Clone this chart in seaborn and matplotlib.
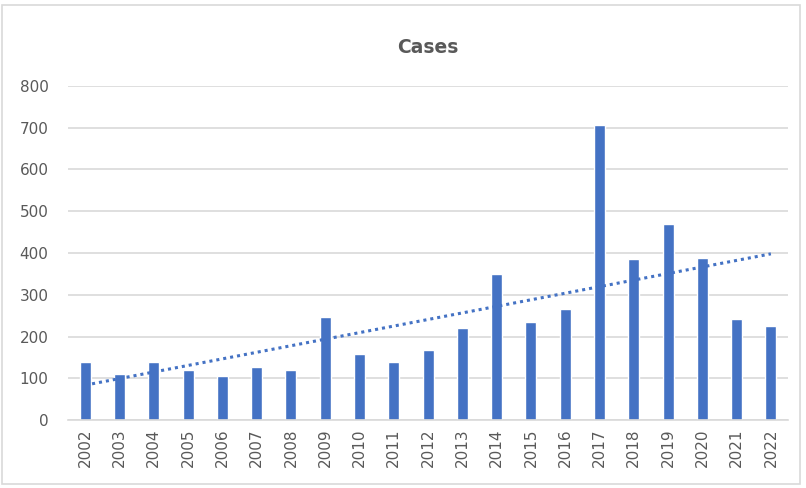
import numpy as np
import pandas as pd
import seaborn as sns
import matplotlib.pyplot as plt
from matplotlib.patches import Rectangle

# data
years = [str(y) for y in range(2002, 2023)]
cases = [138, 110, 140, 119, 106, 126, 119, 246, 158, 138, 168,
         220, 350, 235, 266, 706, 385, 469, 388, 243, 226]

df = pd.DataFrame({'year': years, 'cases': cases})

# linear trendline like Excel's
idx = np.arange(len(years))
slope, intercept = np.polyfit(idx, cases, 1)
trend = pd.DataFrame({'x': idx, 'y': slope * idx + intercept})

sns.set_style("white")
plt.rcParams['font.family'] = ['DejaVu Sans']

bar_color = '#4472C4'
text_color = '#595959'
grid_color = '#D9D9D9'

fig = plt.figure(figsize=(8.06, 4.88), dpi=100)
ax = fig.add_axes([0.0844, 0.1393, 0.8933, 0.6845])

sns.barplot(data=df, x='year', y='cases', color=bar_color, width=0.32,
            saturation=1, ax=ax, zorder=2)
sns.lineplot(data=trend, x='x', y='y', color=bar_color, linestyle=(0, (1, 1.3)),
             linewidth=2.2, ax=ax, zorder=3)

ax.set_ylim(0, 800)
ax.set_xlim(-0.5, len(years) - 0.5)
ax.set_yticks(range(0, 801, 100))
ax.yaxis.grid(True, color=grid_color, linewidth=1.2, zorder=0)
ax.set_axisbelow(True)
for s in ['top', 'right', 'left']:
    ax.spines[s].set_visible(False)
ax.spines['bottom'].set_color(grid_color)
ax.spines['bottom'].set_linewidth(1.2)

ax.tick_params(axis='both', length=0, colors=text_color, labelsize=11)
ax.tick_params(axis='y', pad=14)
ax.tick_params(axis='x', pad=6)
plt.setp(ax.get_xticklabels(), rotation=90)
ax.set_xlabel('')
ax.set_ylabel('')

fig.text(0.5 * (0.0844 + 0.9777), 0.902, 'Cases', ha='center', va='center',
         fontsize=13.5, fontweight='bold', color=text_color)

# light frame around the whole chart
fig.patches.append(Rectangle((0.003, 0.008), 0.99, 0.982, transform=fig.transFigure,
                             fill=False, edgecolor=grid_color, linewidth=1.2))

fig.savefig('out.png', dpi=100)
